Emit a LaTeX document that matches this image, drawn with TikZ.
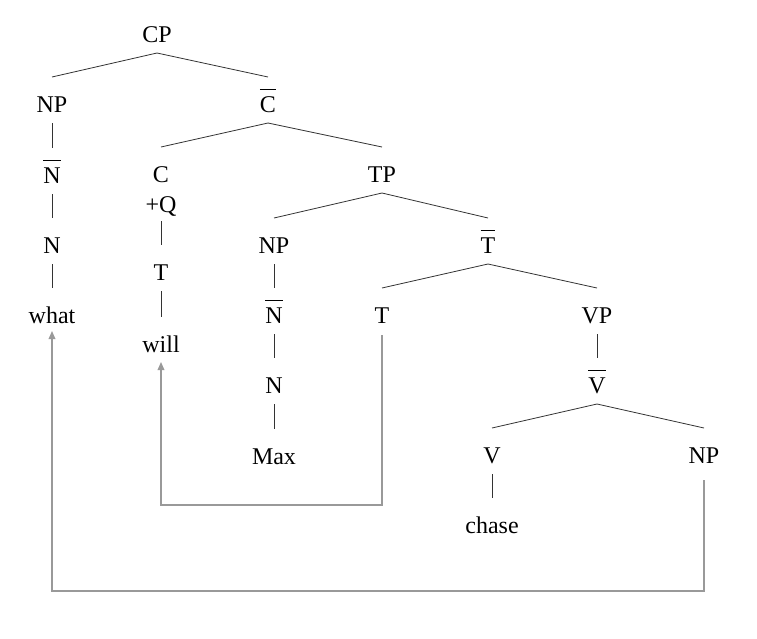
\documentclass[tikz,border=0pt]{standalone}
\usepackage{fontspec}
\setmainfont{Liberation Serif}
\usetikzlibrary{calc,arrows.meta}
\newcommand{\ovl}[1]{\leavevmode\vbox{\hrule height 0.6pt\kern 4.5pt\hbox{#1}}}

\begin{document}
\begin{tikzpicture}[x=0.75pt,y=-0.75pt,
    lbl/.style={inner sep=0pt,anchor=base,font=\fontsize{18}{22.5}\selectfont},
    edge/.style={black!80,line width=0.6pt},
    move/.style={black!40,line width=0.9pt,-{Triangle[length=6pt,width=5pt]}}]
  \useasboundingbox (0,0) rectangle (757,639);
  \node[lbl] (cp) at (157,42) {CP};
  \node[lbl] (np1) at (52,112) {NP};
  \node[lbl] (cbar) at (268,112) {\ovl{C}};
  \node[lbl] (nbar1) at (52,183) {\ovl{N}};
  \node[lbl] (cq) at (161,182) {\begin{tabular}[t]{@{}c@{}}C\\+Q\end{tabular}};
  \node[lbl] (tp) at (382,182) {TP};
  \node[lbl] (n1) at (52,253) {N};
  \node[lbl] (t1) at (161,280) {T};
  \node[lbl] (np2) at (274,253) {NP};
  \node[lbl] (tbar) at (488,253) {\ovl{T}};
  \node[lbl] (what) at (52,323) {what};
  \node[lbl] (will) at (161,352) {will};
  \node[lbl] (nbar2) at (274,323) {\ovl{N}};
  \node[lbl] (t2) at (382,323) {T};
  \node[lbl] (vp) at (597,323) {VP};
  \node[lbl] (n2) at (274,393) {N};
  \node[lbl] (vbar) at (597,393) {\ovl{V}};
  \node[lbl] (max) at (274,464) {Max};
  \node[lbl] (v) at (492,463) {V};
  \node[lbl] (np3) at (704,463) {NP};
  \node[lbl] (chase) at (492,533) {chase};
  % tree edges
  \foreach \p/\c in {cp/np1,cp/cbar,np1/nbar1,nbar1/n1,n1/what,cbar/cq,cbar/tp,t1/will,
      tp/np2,tp/tbar,np2/nbar2,nbar2/n2,n2/max,tbar/t2,tbar/vp,vp/vbar,vbar/v,vbar/np3,v/chase}
    \draw[edge] ($(\p.base)+(0,11)$) -- ($(\c.base)+(0,-35)$);
  \draw[edge] (cq.south) -- ($(t1.base)+(0,-35)$);
  % movement
  \draw[move] ($(t2.base)+(0,12)$) -- ($(t2.base)+(0,182)$) -| ($(will.base)+(0,10)$);
  \draw[move] ($(np3.base)+(0,17)$) -- ($(np3.base)+(0,128)$) -| ($(what.base)+(0,8)$);
\end{tikzpicture}
\end{document}
